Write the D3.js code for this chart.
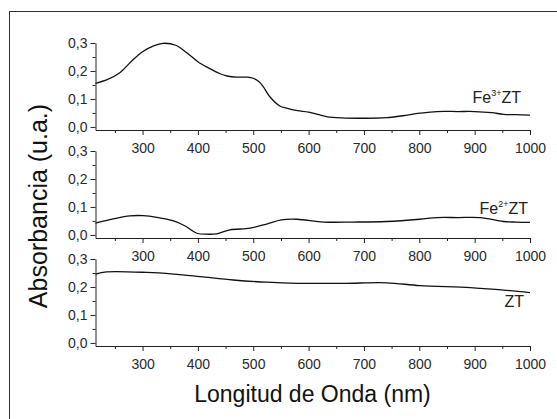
<!DOCTYPE html>
<html>
<head>
<meta charset="utf-8">
<script src="https://cdn.jsdelivr.net/npm/d3@7"></script>
<style>
  body { margin: 0; background: #fff; }
  svg { display: block; font-family: "Liberation Sans", Arial, sans-serif; }
  .axis path, .axis line { stroke: #222; }
  .axis text { fill: #2a2a2a; font-size: 14px; }
</style>
</head>
<body>
<svg width="557" height="419"></svg>
<script>
// wavelengths (nm) and absorbance
var fe3Wave = [215, 235, 259, 280, 300, 320, 337, 360, 380, 400, 420, 440, 453, 470, 490, 500, 510, 518, 530, 548, 560, 580, 600, 632, 660, 700, 741, 770, 801, 832, 870, 900, 931, 952, 975, 1000];
var fe3Abs  = [0.156, 0.168, 0.194, 0.235, 0.269, 0.29, 0.299, 0.292, 0.265, 0.233, 0.21, 0.19, 0.182, 0.178, 0.178, 0.174, 0.162, 0.144, 0.108, 0.075, 0.067, 0.058, 0.053, 0.037, 0.032, 0.031, 0.033, 0.04, 0.049, 0.055, 0.055, 0.055, 0.051, 0.045, 0.044, 0.042];

var fe2Wave = [215, 247, 277, 301, 326, 356, 377, 398, 416, 434, 458, 494, 524, 551, 579, 627, 680, 741, 801, 832, 870, 910, 952, 975, 1000];
var fe2Abs  = [0.042, 0.057, 0.068, 0.069, 0.063, 0.05, 0.032, 0.006, 0.0025, 0.004, 0.018, 0.024, 0.039, 0.054, 0.056, 0.046, 0.046, 0.048, 0.056, 0.062, 0.062, 0.062, 0.048, 0.046, 0.045];

var ztWave = [215, 235, 308, 356, 404, 464, 524, 580, 663, 741, 801, 892, 952, 1000];
var ztAbs  = [0.246, 0.254, 0.252, 0.246, 0.237, 0.225, 0.217, 0.213, 0.213, 0.215, 0.205, 0.198, 0.189, 0.18];

var xMajor = [300, 400, 500, 600, 700, 800, 900, 1000];
var xMinor = [250, 350, 450, 550, 650, 750, 850, 950];
var yMajor = [0, 0.1, 0.2, 0.3];
var yMinor = [0.05, 0.15, 0.25];

var panels = [
    { label: "Fe", sup: "3+", rest: "ZT", wave: fe3Wave, abs: fe3Abs, top: 43, lx: 521, ly: 103 },
    { label: "Fe", sup: "2+", rest: "ZT", wave: fe2Wave, abs: fe2Abs, top: 151, lx: 528, ly: 214 },
    { label: "", sup: "", rest: "ZT", wave: ztWave, abs: ztAbs, top: 259, lx: 524, ly: 307 }
];

var svg = d3.select("svg");
var left = 95.5, right = 530, panelH = 87;

// outer frame (runs off right and bottom edges)
svg.append("rect")
    .attr("x", 9.5).attr("y", 11.5)
    .attr("width", 600).attr("height", 500)
    .attr("fill", "none").attr("stroke", "#333").attr("stroke-width", 1);

var x = d3.scaleLinear().domain([215, 1000]).range([left, right]);
var commaFmt = function (d) { return d3.format(".1f")(d).replace(".", ","); };

panels.forEach(function (p) {
    var y = d3.scaleLinear().domain([-0.011, 0.3]).range([p.top + panelH, p.top]);
    var g = svg.append("g");

    g.append("g")
        .attr("class", "axis")
        .attr("transform", "translate(0," + (p.top + panelH) + ")")
        .call(d3.axisBottom(x).tickValues(xMajor).tickSize(5).tickPadding(8).tickSizeOuter(0).tickFormat(d3.format("d")));
    g.append("g")
        .attr("class", "axis")
        .attr("transform", "translate(0," + (p.top + panelH) + ")")
        .call(d3.axisBottom(x).tickValues(xMinor).tickSize(3).tickFormat("").tickSizeOuter(0))
        .select(".domain").remove();

    g.append("g")
        .attr("class", "axis")
        .attr("transform", "translate(" + left + ",0)")
        .call(d3.axisLeft(y).tickValues(yMajor).tickSize(5).tickPadding(3).tickSizeOuter(0).tickFormat(commaFmt));
    g.append("g")
        .attr("class", "axis")
        .attr("transform", "translate(" + left + ",0)")
        .call(d3.axisLeft(y).tickValues(yMinor).tickSize(3).tickFormat("").tickSizeOuter(0))
        .select(".domain").remove();

    var pts = p.wave.map(function (w, i) { return [w, p.abs[i]]; });
    g.append("path")
        .datum(pts)
        .attr("fill", "none")
        .attr("stroke", "#111")
        .attr("stroke-width", 1.3)
        .attr("d", d3.line()
            .x(function (d) { return x(d[0]); })
            .y(function (d) { return y(d[1]); })
            .curve(d3.curveCatmullRom.alpha(0.5)));

    var t = g.append("text")
        .attr("x", p.lx).attr("y", p.ly)
        .attr("text-anchor", "end")
        .attr("font-size", 16)
        .attr("fill", "#222");
    t.append("tspan").text(p.label);
    if (p.sup) {
        t.append("tspan").attr("font-size", 9).attr("dy", -7).text(p.sup);
        t.append("tspan").attr("dy", 7).text(p.rest);
    } else {
        t.append("tspan").text(p.rest);
    }
});

svg.append("text")
    .attr("x", 312.5).attr("y", 402)
    .attr("text-anchor", "middle")
    .attr("font-size", 23)
    .attr("fill", "#111")
    .text("Longitud de Onda (nm)");

svg.append("text")
    .attr("transform", "translate(47,206) rotate(-90)")
    .attr("text-anchor", "middle")
    .attr("font-size", 25)
    .attr("fill", "#111")
    .text("Absorbancia (u.a.)");
</script>
</body>
</html>
